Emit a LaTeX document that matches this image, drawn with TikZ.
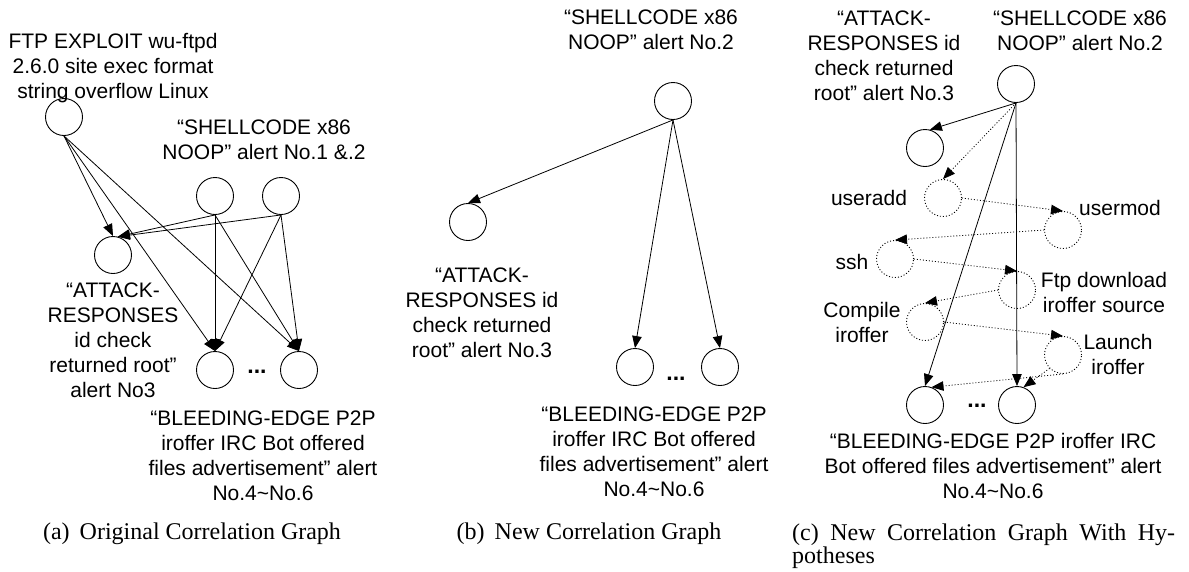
\documentclass[tikz,border=0pt]{standalone}
\usepackage{fontspec}
\setmainfont{Liberation Sans}
\newfontfamily\capfont{Liberation Serif}
\usetikzlibrary{arrows.meta}
\begin{document}
\begin{tikzpicture}[x=1pt,y=-1pt,
  every node/.style={font=\fontsize{21}{25}\selectfont},
  circ/.style={draw, circle, minimum size=37pt, inner sep=0pt, line width=0.9pt},
  hyp/.style={circ, dash pattern=on 1pt off 2pt},
  lbl/.style={align=center, inner sep=0pt},
  arr/.style={-{Triangle[length=12pt,width=9.5pt]}, line width=0.8pt},
  harr/.style={arr, dash pattern=on 1pt off 2pt},
  dotlbl/.style={anchor=base, inner sep=0pt, font=\fontsize{23}{25}\selectfont\bfseries},
  capt/.style={font=\capfont\fontsize{24}{28}\selectfont, inner sep=0pt, anchor=base}
]
\useasboundingbox (0,0) rectangle (1189,571);

% ---------- (a) ----------
\node[circ] (ftp) at (64,117) {};
\node[circ] (s1) at (215,196) {};
\node[circ] (s2) at (281,196) {};
\node[circ] (att) at (113,255) {};
\node[circ] (b1) at (215,370) {};
\node[circ] (b2) at (299,370) {};

\draw[arr] (ftp.south) -- (att.north);
\draw[arr] (ftp.south) -- (b1.north);
\draw[arr] (ftp.south) -- (b2.north);
\draw[arr] (s1.south) -- (att.75);
\draw[arr] (s2.south) -- (att.75);
\draw[arr] (s1.south) -- (b1.north);
\draw[arr] (s1.south) -- (b2.north);
\draw[arr] (s2.south) -- (b1.north);
\draw[arr] (s2.south) -- (b2.north);

\node[lbl] (lftp) at (113,68) {FTP EXPLOIT wu-ftpd\\2.6.0 site exec format\\string overflow Linux};
\node[lbl] (lsa) at (264,140) {“SHELLCODE x86\\NOOP” alert No.1 \&.2};
\node[lbl] (laa) at (113,340) {“ATTACK-\\RESPONSES\\id check\\returned root”\\alert No3};
\node[lbl] (lba) at (263,456) {“BLEEDING-EDGE P2P\\iroffer IRC Bot offered\\files advertisement” alert\\No.4\textasciitilde No.6};
\node[dotlbl] (da) at (257,373) {...};
\node[capt] (ca) at (192,539) {(a)\hspace{0.42em}Original Correlation Graph};

% ---------- (b) ----------
\node[circ] (tb) at (673,101) {};
\node[circ] (ab) at (468,222) {};
\node[circ] (b3) at (635,367) {};
\node[circ] (b4) at (720,367) {};

\draw[arr] (tb.south) -- (ab.north);
\draw[arr] (tb.south) -- (b3.north);
\draw[arr] (tb.south) -- (b4.north);

\node[lbl] (lsb) at (651,30) {“SHELLCODE x86\\NOOP” alert No.2};
\node[lbl] (lab) at (482,313) {“ATTACK-\\RESPONSES id\\check returned\\root” alert No.3};
\node[lbl] (lbb) at (654,452) {“BLEEDING-EDGE P2P\\iroffer IRC Bot offered\\files advertisement” alert\\No.4\textasciitilde No.6};
\node[dotlbl] (db) at (676,380) {...};
\node[capt] (cb) at (589,539) {(b)\hspace{0.42em}New Correlation Graph};

% ---------- (c) ----------
\node[circ] (tc) at (1016,84) {};
\node[circ] (ac) at (925,148) {};
\node[hyp] (ua) at (943,198) {};
\node[hyp] (um) at (1063,230) {};
\node[hyp] (ssh) at (895,259) {};
\node[hyp] (ftpd) at (1017,290) {};
\node[hyp] (comp) at (925,322) {};
\node[hyp] (lau) at (1063,355) {};
\node[circ] (b5) at (925,405) {};
\node[circ] (b6) at (1017,405) {};

\draw[arr] (tc.south) -- (ac.75);
\draw[harr] (tc.south) -- (ua.north);
\draw[harr] (ua.east) -- (um.north);
\draw[harr] (um.west) -- (ssh.north);
\draw[harr] (ssh.east) -- (ftpd.north);
\draw[harr] (ftpd.west) -- (comp.north);
\draw[harr] (comp.east) -- (lau.north);
\draw[harr] (lau.south west) -- (b6.70);
\draw[harr] (lau.south) -- (b5.70);
\draw[arr] (tc.south) -- (b5.north);
\draw[arr] (tc.south) -- (b6.north);

\node[lbl] (lac) at (884,56) {“ATTACK-\\RESPONSES id\\check returned\\root” alert No.3};
\node[lbl] (lsc) at (1080,31) {“SHELLCODE x86\\NOOP” alert No.2};
\node[lbl] (lua) at (869,198) {useradd};
\node[lbl] (lum) at (1120,208) {usermod};
\node[lbl] (lssh) at (852,262) {ssh};
\node[lbl] (lftpd) at (1104,292) {Ftp download\\iroffer source};
\node[lbl] (lcomp) at (862,322) {Compile\\iroffer};
\node[lbl] (llau) at (1118,354) {Launch\\iroffer};
\node[lbl] (lbc) at (993,466) {“BLEEDING-EDGE P2P iroffer IRC\\Bot offered files advertisement” alert\\No.4\textasciitilde No.6};
\node[dotlbl] (dc) at (977,407) {...};
\node[capt, anchor=base west] (cc1) at (792,540) {\makebox[383pt][s]{(c)\ New Correlation Graph With Hy-}};
\node[capt, anchor=base west] (cc2) at (792,563) {potheses};
\end{tikzpicture}
\end{document}
